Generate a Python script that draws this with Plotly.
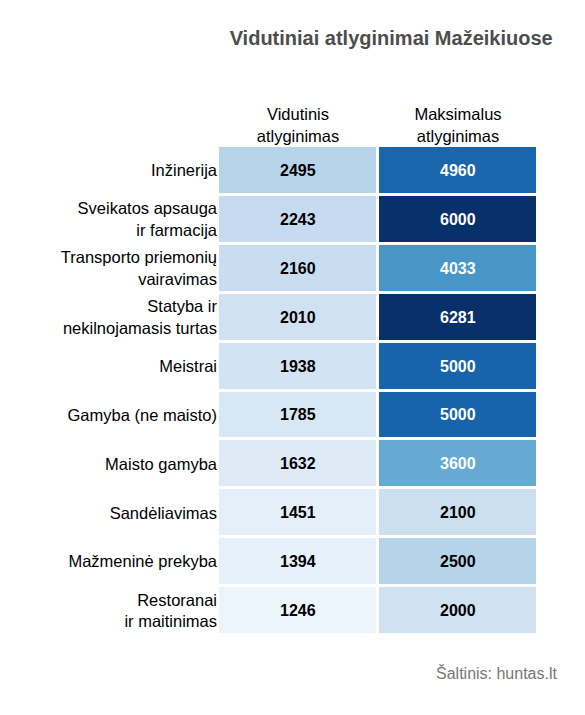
import plotly.graph_objects as go

# Data
categories = ["Inžinerija", "Sveikatos apsauga<br>ir farmacija", "Transporto priemonių<br>vairavimas",
              "Statyba ir<br>nekilnojamasis turtas", "Meistrai", "Gamyba (ne maisto)",
              "Maisto gamyba", "Sandėliavimas", "Mažmeninė prekyba", "Restoranai<br>ir maitinimas"]
columns = ["Vidutinis<br>atlyginimas", "Maksimalus<br>atlyginimas"]
avg_salary = [2495, 2243, 2160, 2010, 1938, 1785, 1632, 1451, 1394, 1246]
max_salary = [4960, 6000, 4033, 6281, 5000, 5000, 3600, 2100, 2500, 2000]

z = [[a, m] for a, m in zip(avg_salary, max_salary)]

fig = go.Figure(go.Heatmap(
    z=z, x=columns, y=categories,
    colorscale="Blues", zmin=1000, zmax=6000,
    xgap=3, ygap=3, showscale=False, hoverinfo="skip",
))

# cell labels, white on dark cells
for i, cat in enumerate(categories):
    for j, col in enumerate(columns):
        v = z[i][j]
        fig.add_annotation(x=col, y=cat, text=str(v), showarrow=False,
                           font=dict(size=16, family="Arial", color="white" if v > 3000 else "black",
                                     weight="bold"))

fig.update_layout(
    width=585, height=715,
    margin=dict(l=210, r=55, t=138, b=88),
    plot_bgcolor="white", paper_bgcolor="white",
    font=dict(family="Arial", size=16.5, color="black"),
    title=dict(text="<b>Vidutiniai atlyginimai Mažeikiuose</b>", x=0.655, xanchor="center",
               y=0.958, yanchor="middle", font=dict(size=20, color="#4d4d4d")),
    xaxis=dict(side="top", showgrid=False, zeroline=False, ticks="", ticklen=0),
    yaxis=dict(autorange="reversed", showgrid=False, zeroline=False, ticks="", ticklen=0),
)
fig.add_annotation(text="Šaltinis: huntas.lt", xref="paper", yref="paper", x=1.07, y=-0.1,
                   xanchor="right", showarrow=False, font=dict(size=16, color="#777777"))

fig.write_html("out.html")
